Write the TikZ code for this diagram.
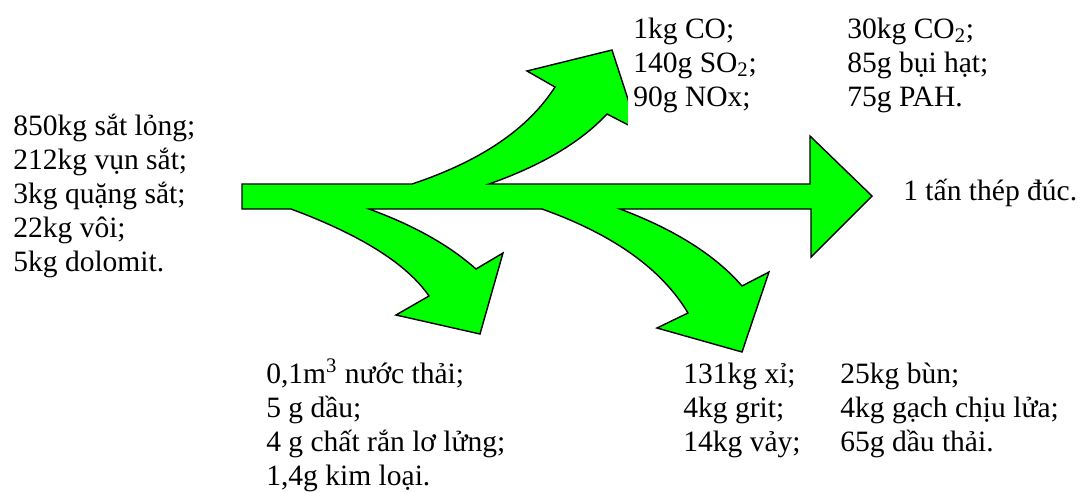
\documentclass[tikz,border=0pt]{standalone}
\usepackage{fontspec}
\setmainfont{Liberation Serif}
\definecolor{flowgreen}{RGB}{0, 255, 0}

\begin{document}
\begin{tikzpicture}[x=0.02cm, y=-0.02cm, every node/.style={font=\fontsize{16.8}{19.35}\selectfont},
    txt/.style={align=left, anchor=base west, inner sep=0pt},
    flow/.style={fill=flowgreen, draw=black, line width=0.8pt, line join=miter}]
    \useasboundingbox (0,0) rectangle (1080,491);

    % Main stream with one branch up and two branches down
    \draw[flow] (242,184) -- (412,184)
        .. controls (481,161) and (528,129) .. (555,87) -- (527,71) -- (612,50) -- (638,130) -- (607,114)
        .. controls (580,143) and (540,166) .. (489,184) -- (810,184) -- (810,136) -- (872,196) -- (811,257) -- (811,209) -- (620,209)
        .. controls (676,230) and (716,256) .. (742,286) -- (769,272) -- (742,352) -- (657,328) -- (688,313)
        .. controls (661,268) and (612,234) .. (542,209) -- (369,209)
        .. controls (413,225) and (449,245) .. (476,269) -- (503,253) -- (480,334) -- (396,315) -- (429,296)
        .. controls (407,264) and (361,235) .. (291,209) -- (242,209) -- cycle;

    % Inputs (nodes sit on the baseline of their last line)
    \node[txt] (inputs) at (13,271) {850kg sắt lỏng;\\212kg vụn sắt;\\3kg quặng sắt;\\22kg vôi;\\5kg dolomit.};

    % Emissions to air
    \node[txt, fill=white, inner xsep=0.1cm, inner ysep=0.45cm] (air) at (628,106) {1kg CO;\\140g SO\textsubscript{2};\\90g NOx;};
    \node[txt] (airb) at (847,106) {30kg CO\textsubscript{2};\\85g bụi hạt;\\75g PAH.};

    % Product
    \node[txt] (steel) at (903,200) {1 tấn thép đúc.};

    % Waste water
    \node[txt] (water) at (266,485) {0,1m\textsuperscript{3} nước thải;\\5 g dầu;\\4 g chất rắn lơ lửng;\\1,4g kim loại.};

    % Solid waste
    \node[txt] (solid) at (683,451) {131kg xỉ;\\4kg grit;\\14kg vảy;};
    \node[txt] (solidb) at (840,451) {25kg bùn;\\4kg gạch chịu lửa;\\65g dầu thải.};
\end{tikzpicture}
\end{document}
